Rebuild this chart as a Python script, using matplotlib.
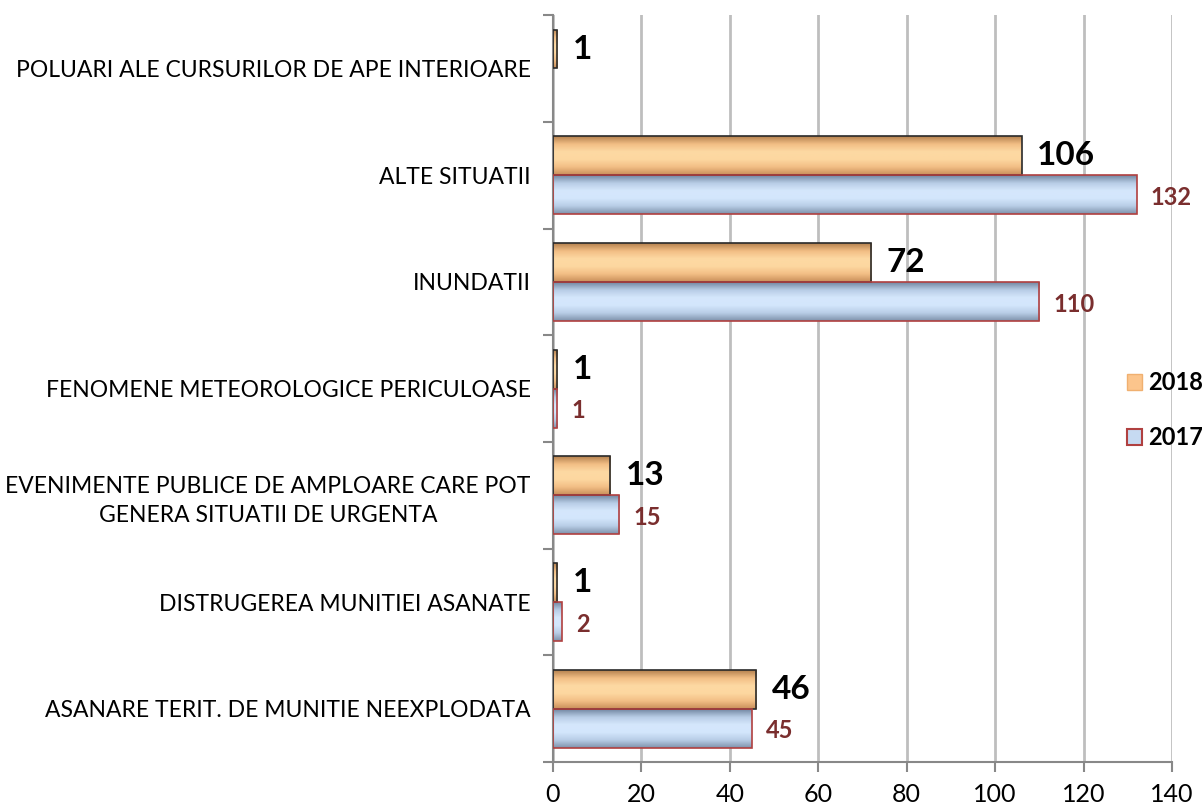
import numpy as np
import matplotlib.pyplot as plt
from matplotlib.patches import Patch
from matplotlib.colors import LinearSegmentedColormap

plt.rcParams['font.family'] = ['Lato', 'DejaVu Sans']

categories = ['ASANARE TERIT. DE MUNITIE NEEXPLODATA',
              'DISTRUGEREA MUNITIEI ASANATE',
              'EVENIMENTE PUBLICE DE AMPLOARE CARE POT\nGENERA SITUATII DE URGENTA',
              'FENOMENE METEOROLOGICE PERICULOASE',
              'INUNDATII',
              'ALTE SITUATII',
              'POLUARI ALE CURSURILOR DE APE INTERIOARE']
v2018 = [46, 1, 13, 1, 72, 106, 1]
v2017 = [45, 2, 15, 1, 110, 132, np.nan]
xticks = [0, 20, 40, 60, 80, 100, 120, 140]

# shaded fills like the office "bevel" bars
orange_cm = LinearSegmentedColormap.from_list('o', ['#C98F5A', '#F2BE85', '#FDD7A0', '#FDD9A3', '#F2BE85', '#B5824F'])
blue_cm = LinearSegmentedColormap.from_list('b', ['#7F93AC', '#B8CDE6', '#D3E6FC', '#D5E7FC', '#B8CDE6', '#7388A3'])

fig = plt.figure(figsize=(12.02, 8.09), dpi=100)
ax = fig.add_axes([0.46, 0.058, 0.515, 0.9233])

y = np.arange(len(categories))
h = 0.365
b18 = ax.barh(y + h / 2, v2018, height=h, color='none', edgecolor='#2a2a2a', linewidth=1.2, zorder=3)
b17 = ax.barh(y - h / 2, np.nan_to_num(v2017), height=h, color='none', edgecolor='#B04040', linewidth=1.2, zorder=3)

grad = np.linspace(0, 1, 64).reshape(-1, 1)
for bars, cm in ((b18, orange_cm), (b17, blue_cm)):
    for r in bars:
        if r.get_width() <= 0:
            r.set_visible(False)
            continue
        im = ax.imshow(grad, cmap=cm, aspect='auto', zorder=2,
                       extent=(0, r.get_width(), r.get_y() + r.get_height(), r.get_y()))
        im.set_clip_path(r)

for r, v in zip(b18, v2018):
    ax.annotate(str(v), (v, r.get_y() + r.get_height() / 2), xytext=(11, 0), textcoords='offset points',
                va='center', ha='left', fontsize=24, fontweight='bold', color='black')
for r, v in zip(b17, v2017):
    if np.isnan(v):
        continue
    ax.annotate(str(int(v)), (v, r.get_y() + r.get_height() / 2), xytext=(10, -2), textcoords='offset points',
                va='center', ha='left', fontsize=17, fontweight='bold', color='#7A2E2E')

ax.set_xlim(0, 140)
ax.set_ylim(-0.5, len(categories) - 0.5)
ax.set_xticks(xticks)
ax.set_xticklabels([str(t) for t in xticks], fontsize=18)
ax.tick_params(axis='x', direction='out', length=7, width=1.5, color='#888888', pad=8)
ax.grid(axis='x', color='#BEBEBE', linewidth=2, zorder=0)
ax.set_axisbelow(True)

ax.set_yticks(np.arange(len(categories) + 1) - 0.5)
ax.set_yticklabels([])
ax.tick_params(axis='y', which='major', direction='out', length=7, width=1.5, color='#888888')
ax.set_yticks(y, minor=True)
ax.set_yticklabels(categories, minor=True, fontsize=16.5, ha='right', multialignment='center',
                   linespacing=1.45)
ax.tick_params(axis='y', which='minor', length=0, pad=16)

for s in ('top', 'right'):
    ax.spines[s].set_visible(False)
for s in ('left', 'bottom'):
    ax.spines[s].set_color('#888888')
    ax.spines[s].set_linewidth(1.5)

handles = [Patch(facecolor='#FCC58C', edgecolor='#F0B070', label='2018'),
           Patch(facecolor='#C6DAF2', edgecolor='#B04040', linewidth=1.5, label='2017')]
leg = fig.legend(handles=handles, loc='center left', bbox_to_anchor=(0.9376, 0.493), frameon=False,
                 prop={'size': 17, 'weight': 'bold'}, handlelength=0.65, handleheight=0.65,
                 handletextpad=0.25, labelspacing=1.35, borderpad=0, borderaxespad=0)

fig.savefig('out.png', dpi=100)
